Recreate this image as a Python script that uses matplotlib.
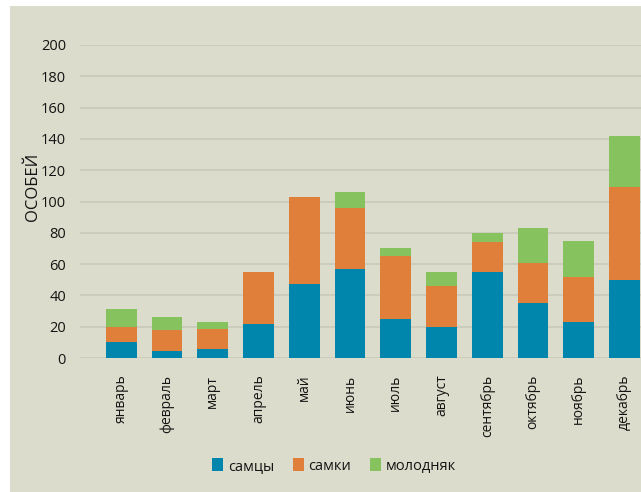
import matplotlib
matplotlib.use("Agg")
import matplotlib.pyplot as plt
import numpy as np
from matplotlib.patches import Rectangle

months = ["январь", "февраль", "март", "апрель", "май", "июнь",
          "июль", "август", "сентябрь", "октябрь", "ноябрь", "декабрь"]
males = [10, 4.5, 5.5, 22, 47, 57, 25, 20, 55, 35, 23, 50]
females = [10, 13.5, 13, 33, 56, 39, 40, 26, 19, 26, 29, 59]
young = [11, 8, 4.5, 0, 0, 10, 5, 9, 6, 22, 23, 33]
series_names = ["самцы", "самки", "молодняк"]
yticks = list(range(0, 201, 20))

bg = "#dbdccb"
colors = ["#0086ad", "#e07f3a", "#86c35f"]
txt = "#141414"

plt.rcParams["font.family"] = ["Open Sans", "DejaVu Sans"]

fig = plt.figure(figsize=(6.41, 4.92), dpi=100)
fig.patch.set_facecolor("white")
# beige panel with a thin white margin on the top and left
fig.patches.append(Rectangle((10 / 641, 0), 1, 1 - 6 / 492, transform=fig.transFigure,
                             facecolor=bg, edgecolor="none", zorder=-10))

ax = fig.add_axes([80 / 641, 134 / 492, 1 - 80 / 641, (358 - 45) / 492])
ax.set_zorder(5)
ax.patch.set_alpha(0)

x = np.arange(len(months))
m = np.array(males)
f = np.array(females)
y = np.array(young)
w = 0.67
ax.bar(x, m, w, color=colors[0], label=series_names[0], zorder=3)
ax.bar(x, f, w, bottom=m, color=colors[1], label=series_names[1], zorder=3)
ax.bar(x, y, w, bottom=m + f, color=colors[2], label=series_names[2], zorder=3)

ax.set_ylim(0, 200)
ax.set_xlim(-0.9, 11.36)
ax.set_yticks(yticks)
ax.set_yticklabels([str(t) for t in yticks], fontsize=10.5, color=txt)
ax.yaxis.grid(True, color="#c8c9b8", linewidth=1.2, zorder=0)
ax.set_axisbelow(True)
ax.set_xticks(x)
ax.set_xticklabels(months, rotation=90, fontsize=10, color=txt,
                   fontweight="medium", va="top", ha="center")
ax.tick_params(axis="y", length=0, pad=10)
ax.tick_params(axis="x", length=0, pad=12)
for s in ax.spines.values():
    s.set_visible(False)

fig.text(33 / 641, 1 - 187 / 492, "ОСОБЕЙ", rotation=90, fontsize=12,
         color=txt, ha="center", va="center")

leg = fig.legend(loc="center", bbox_to_anchor=(334 / 641, 1 - 466 / 492), ncol=3,
                 frameon=False, prop={"size": 10.5},
                 handlelength=0.75, handleheight=0.9,
                 handletextpad=0.3, columnspacing=1.3)
for t in leg.get_texts():
    t.set_color(txt)

fig.savefig("out.png", dpi=100, facecolor=fig.get_facecolor())
